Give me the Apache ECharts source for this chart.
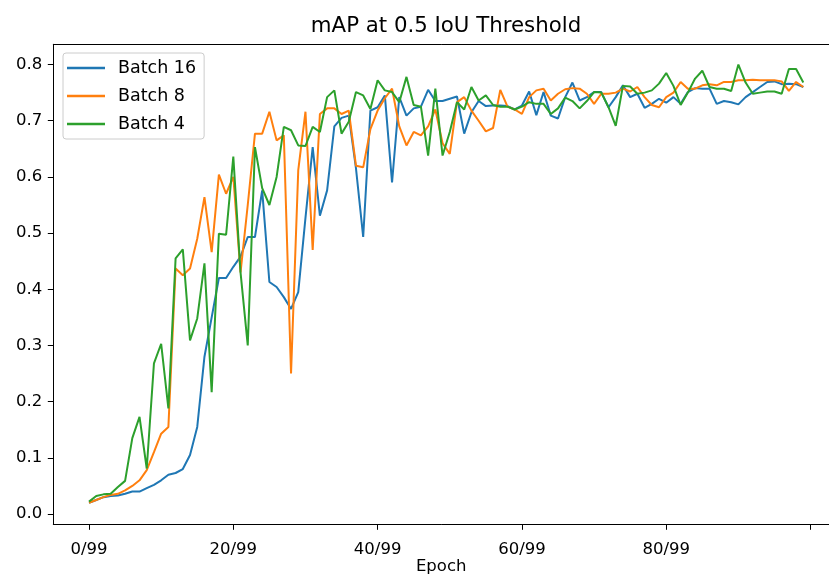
<!DOCTYPE html>
<html>
<head>
<meta charset="utf-8">
<script src="https://cdn.jsdelivr.net/npm/echarts@6/dist/echarts.min.js"></script>
<style>
html,body{margin:0;padding:0;background:#fff;}
#chart{width:829px;height:578px;}
</style>
</head>
<body>
<div id="chart"></div>
<script>
// Epochs 0..99
const epochs = Array.from({length: 100}, (_, i) => i);
const epochLabels = epochs.map(i => i + '/99');

const xTickValues = [0, 20, 40, 60, 80, 100];
const xTickLabels = ['0/99', '20/99', '40/99', '60/99', '80/99', ''];
const yTickValues = [0, 0.1, 0.2, 0.3, 0.4, 0.5, 0.6, 0.7, 0.8];

const seriesNames = ['Batch 16', 'Batch 8', 'Batch 4'];

const batch16 = [
  0.020, 0.025, 0.030, 0.032, 0.033, 0.036, 0.040, 0.040, 0.046, 0.052,
  0.060, 0.070, 0.073, 0.080, 0.105, 0.155, 0.280, 0.350, 0.420, 0.420,
  0.440, 0.458, 0.493, 0.493, 0.576, 0.413, 0.404, 0.386, 0.365, 0.395,
  0.527, 0.653, 0.531, 0.576, 0.690, 0.705, 0.709, 0.615, 0.493, 0.718,
  0.724, 0.745, 0.590, 0.742, 0.709, 0.722, 0.725, 0.755, 0.735, 0.735,
  0.739, 0.743, 0.677, 0.715, 0.735, 0.726, 0.727, 0.727, 0.726, 0.720,
  0.727, 0.752, 0.710, 0.751, 0.709, 0.704, 0.742, 0.768, 0.736, 0.742,
  0.751, 0.751, 0.724, 0.742, 0.763, 0.742, 0.748, 0.723, 0.730, 0.739,
  0.732, 0.742, 0.730, 0.751, 0.758, 0.757, 0.757, 0.730, 0.735, 0.733,
  0.729, 0.742, 0.751, 0.760, 0.769, 0.770, 0.765, 0.766, 0.765, 0.760
];

const batch8 = [
  0.020, 0.025, 0.030, 0.034, 0.036, 0.042, 0.050, 0.060, 0.078, 0.110,
  0.143, 0.155, 0.437, 0.425, 0.437, 0.490, 0.564, 0.466, 0.604, 0.570,
  0.600, 0.430, 0.550, 0.677, 0.677, 0.716, 0.665, 0.674, 0.250, 0.612,
  0.716, 0.470, 0.712, 0.722, 0.722, 0.712, 0.718, 0.620, 0.617, 0.685,
  0.718, 0.740, 0.757, 0.690, 0.656, 0.680, 0.674, 0.690, 0.720, 0.660,
  0.641, 0.733, 0.742, 0.718, 0.700, 0.681, 0.687, 0.755, 0.725, 0.720,
  0.712, 0.742, 0.754, 0.757, 0.736, 0.748, 0.756, 0.758, 0.757, 0.748,
  0.730, 0.748, 0.748, 0.750, 0.757, 0.752, 0.760, 0.742, 0.728, 0.724,
  0.742, 0.750, 0.769, 0.757, 0.757, 0.763, 0.765, 0.763, 0.769, 0.769,
  0.772, 0.772, 0.773, 0.772, 0.772, 0.772, 0.770, 0.753, 0.769, 0.760
];

const batch4 = [
  0.022, 0.032, 0.035, 0.036, 0.048, 0.059, 0.135, 0.173, 0.081, 0.268,
  0.303, 0.188, 0.455, 0.471, 0.309, 0.348, 0.446, 0.217, 0.499, 0.497,
  0.636, 0.430, 0.300, 0.653, 0.580, 0.550, 0.600, 0.689, 0.683, 0.656,
  0.655, 0.689, 0.680, 0.742, 0.754, 0.677, 0.698, 0.751, 0.745, 0.721,
  0.772, 0.754, 0.751, 0.733, 0.778, 0.728, 0.725, 0.638, 0.757, 0.638,
  0.680, 0.733, 0.720, 0.760, 0.736, 0.745, 0.728, 0.725, 0.725, 0.720,
  0.725, 0.733, 0.730, 0.730, 0.712, 0.722, 0.741, 0.735, 0.722, 0.735,
  0.751, 0.750, 0.724, 0.691, 0.762, 0.761, 0.748, 0.750, 0.754, 0.766,
  0.785, 0.762, 0.728, 0.750, 0.775, 0.789, 0.760, 0.757, 0.757, 0.753,
  0.800, 0.768, 0.748, 0.750, 0.752, 0.752, 0.748, 0.792, 0.792, 0.768
];

const colors = ['#1f77b4', '#ff7f0e', '#2ca02c'];
const FONT = 'DejaVu Sans';

const toPairs = arr => arr.map((v, i) => [epochs[i], v]);

const X_MIN = -4.95, X_MAX = 102.56;

const chart = echarts.init(document.getElementById('chart'), null, {renderer: 'canvas'});
chart.setOption({
  backgroundColor: '#fff',
  animation: false,
  title: {
    text: 'mAP at 0.5 IoU Threshold',
    left: 441,
    textAlign: 'center',
    top: 11,
    textStyle: {fontFamily: FONT, fontSize: 21.3, fontWeight: 'normal', color: '#000'}
  },
  legend: {
    orient: 'vertical',
    left: 63,
    top: 53,
    padding: [6, 8, 6, 4],
    itemGap: 10,
    itemWidth: 38,
    itemHeight: 2.4,
    icon: 'rect',
    backgroundColor: 'rgba(255,255,255,0.8)',
    borderColor: '#cccccc',
    borderWidth: 1,
    borderRadius: 3,
    textStyle: {fontFamily: FONT, fontSize: 17.5, color: '#000', lineHeight: 17, padding: [0, 0, 0, 8]},
    data: seriesNames
  },
  grid: {
    left: 53.3,
    top: 44.3,
    width: 775.7,
    height: 480,
    show: false,
    containLabel: false,
    outerBoundsMode: 'none'
  },
  xAxis: [{
    type: 'value',
    min: X_MIN,
    max: X_MAX,
    name: 'Epoch',
    nameLocation: 'middle',
    nameGap: 34,
    nameMoveOverlap: false,
    nameTextStyle: {fontFamily: FONT, fontSize: 16.5, color: '#000'},
    axisLine: {show: true, onZero: false, lineStyle: {color: '#000', width: 1}},
    axisTick: {show: true, length: 5.5, customValues: xTickValues, lineStyle: {color: '#000', width: 1}},
    axisLabel: {
      show: true,
      margin: 17,
      customValues: xTickValues.slice(0, 5),
      formatter: v => xTickLabels[xTickValues.indexOf(Math.round(v))] || '',
      fontFamily: FONT, fontSize: 16.5, color: '#000'
    },
    splitLine: {show: false}
  }, {
    type: 'value',
    position: 'top',
    min: X_MIN,
    max: X_MAX,
    axisLine: {show: true, onZero: false, lineStyle: {color: '#000', width: 1}},
    axisTick: {show: false},
    axisLabel: {show: false},
    splitLine: {show: false}
  }],
  yAxis: {
    type: 'value',
    min: -0.0183,
    max: 0.836,
    axisLine: {show: true, onZero: false, lineStyle: {color: '#000', width: 1}},
    axisTick: {show: true, length: 5.5, customValues: yTickValues, lineStyle: {color: '#000', width: 1}},
    axisLabel: {
      show: true,
      margin: 11,
      customValues: yTickValues,
      formatter: v => Number(v).toFixed(1),
      fontFamily: FONT, fontSize: 16.5, color: '#000'
    },
    splitLine: {show: false}
  },
  series: [
    {name: seriesNames[0], type: 'line', data: toPairs(batch16), symbol: 'none', lineStyle: {width: 2, color: colors[0]}, itemStyle: {color: colors[0]}},
    {name: seriesNames[1], type: 'line', data: toPairs(batch8), symbol: 'none', lineStyle: {width: 2, color: colors[1]}, itemStyle: {color: colors[1]}},
    {name: seriesNames[2], type: 'line', data: toPairs(batch4), symbol: 'none', lineStyle: {width: 2, color: colors[2]}, itemStyle: {color: colors[2]}}
  ]
});
</script>
</body>
</html>
